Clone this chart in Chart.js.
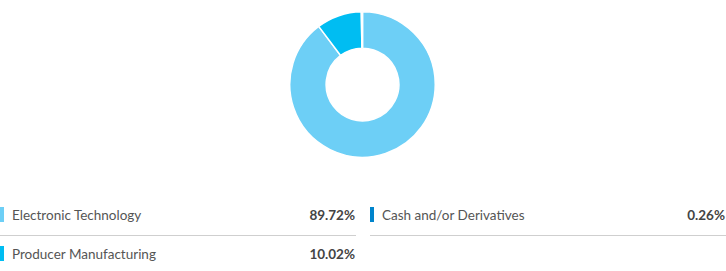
<!DOCTYPE html>
<html>
<head>
<meta charset="utf-8">
<script src="https://cdn.jsdelivr.net/npm/chart.js@4/dist/chart.umd.min.js"></script>
<style>
html,body{margin:0;padding:0;background:#fff;width:726px;height:271px;overflow:hidden;font-family:Lato,"Open Sans",sans-serif;}
#wrap{position:absolute;left:289px;top:11px;width:147px;height:147px;}
.item{position:absolute;height:39px;border-bottom:1px solid #cfcfcf;box-sizing:border-box;}
.item.last{border-bottom:none;}
.mk{position:absolute;left:0;top:10px;width:4px;height:15px;}
.lb{position:absolute;left:12px;top:10px;font-size:13.5px;color:#555;line-height:17px;white-space:nowrap;}
.vl{position:absolute;right:1px;top:10px;font-size:13.5px;color:#444;font-weight:bold;line-height:17px;}
</style>
</head>
<body>
<div id="wrap"><canvas id="c"></canvas></div>
<div id="legend"></div>
<script>
const categories = ["Electronic Technology", "Producer Manufacturing", "Cash and/or Derivatives"];
const values = [89.72, 10.02, 0.26];
const colors = ["#6DCFF6", "#00BDF2", "#0084CC"];
const valueLabels = ["89.72%", "10.02%", "0.26%"];

new Chart(document.getElementById('c'), {
  type: 'doughnut',
  data: {
    labels: categories,
    datasets: [{
      data: values,
      backgroundColor: colors,
      borderColor: '#ffffff',
      borderWidth: 1.5,
      hoverOffset: 0
    }]
  },
  options: {
    responsive: true,
    maintainAspectRatio: false,
    animation: false,
    cutout: '50%',
    layout: {padding: 0},
    plugins: {legend: {display: false}, tooltip: {enabled: false}}
  }
});

// legend layout: column-major, two columns
const positions = [
  {left: 0, top: 197, width: 356},
  {left: 0, top: 236, width: 356, last: true},
  {left: 370, top: 197, width: 356}
];
const lg = document.getElementById('legend');
categories.forEach((cat, i) => {
  const p = positions[i];
  const d = document.createElement('div');
  d.className = 'item' + (p.last ? ' last' : '');
  d.style.left = p.left + 'px';
  d.style.top = p.top + 'px';
  d.style.width = p.width + 'px';
  d.innerHTML = '<div class="mk" style="background:' + colors[i] + '"></div>' +
    '<div class="lb">' + cat + '</div><div class="vl">' + valueLabels[i] + '</div>';
  lg.appendChild(d);
});
</script>
</body>
</html>
